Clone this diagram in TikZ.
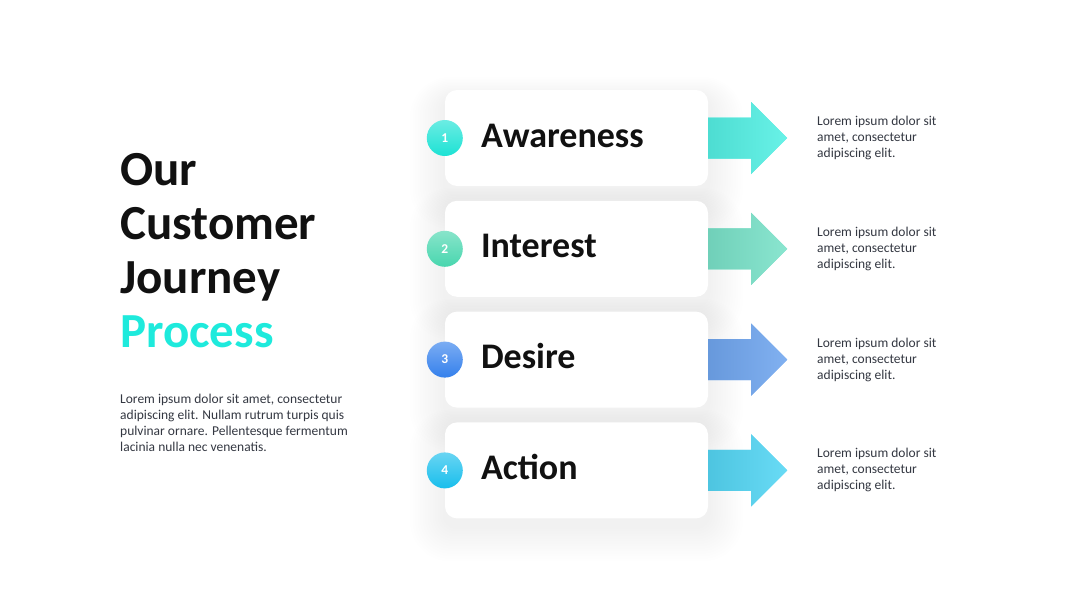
\documentclass[tikz,border=0pt]{standalone}
\usepackage{fontspec}
\setmainfont{Carlito}
\usetikzlibrary{positioning,calc}
\definecolor{inkDark}{RGB}{17,17,17}
\definecolor{bodyGrey}{RGB}{52,56,66}
\definecolor{procCyan}{RGB}{30,234,220}
\definecolor{arrA}{RGB}{84,240,228}
\definecolor{arrB}{RGB}{122,226,201}
\definecolor{arrC}{RGB}{112,166,239}
\definecolor{arrD}{RGB}{84,214,244}
\definecolor{bdgA}{RGB}{28,226,212}
\definecolor{bdgB}{RGB}{72,214,174}
\definecolor{bdgC}{RGB}{52,128,236}
\definecolor{bdgD}{RGB}{24,190,236}

\begin{document}
\begin{tikzpicture}[
  x=1pt,y=-1pt,
  card/.style={fill=white,rounded corners=12pt,minimum width=263pt,minimum height=96pt,
               inner sep=0pt},
  haze/.style={fill=black,opacity=0.0045},
  badge/.style={circle,minimum size=36pt,inner sep=0pt,text=white,
                font=\fontsize{13.5}{14}\selectfont\bfseries},
  steptitle/.style={inner sep=0pt,text=inkDark,font=\fontsize{36}{40}\selectfont\bfseries},
  headline/.style={inner sep=0pt,text=inkDark,font=\fontsize{49}{54}\selectfont\bfseries},
  desc/.style={inner sep=0pt,align=left,text=bodyGrey,font=\fontsize{13.5}{16}\selectfont}
]

% ---- page ----
\fill[white] (0,0) rectangle (1080,608);
\useasboundingbox (0,0) rectangle (1080,608);

% ---- title block (left) ----
\node[headline,anchor=base west] (hOur)  at (120,185) {Our};
\node[headline,anchor=base west] (hCust) at (120,239) {Customer};
\node[headline,anchor=base west] (hJour) at (120,293) {Journey};
\node[headline,anchor=base west,text=procCyan] (hProc) at (120,347) {Process};

\node[desc,anchor=west] (intro) at (120,423)
  {Lorem ipsum dolor sit amet, consectetur\\
   adipiscing elit. Nullam rutrum turpis quis\\
   pulvinar ornare. Pellentesque fermentum\\
   lacinia nulla nec venenatis.};

% ---- soft shadows under the cards ----
\foreach \i in {1,...,4}{
  \pgfmathsetmacro{\yC}{138+(\i-1)*110.8}
  \foreach \k in {1,...,14}{
    \fill[haze,rounded corners=12pt+\k*2pt]
      (445-\k*2.5,\yC-48+8-\k*1.5) rectangle (708+\k*2.5,\yC+48+8+\k*2.5);
  }
}

% ---- steps: card, badge, arrow, note ----
\foreach \i/\word/\arr/\bdg in {1/Awareness/arrA/bdgA,2/Interest/arrB/bdgB,
                                3/Desire/arrC/bdgC,4/Action/arrD/bdgD}{
  \pgfmathsetmacro{\yC}{138+(\i-1)*110.8}
  \node[card] (card\i) at (576.5,\yC) {};
  \node[steptitle,anchor=base west] (title\i) at ($(card\i.west)+(36,9)$) {\word};
  \node[badge,top color=\bdg!65!white,bottom color=\bdg] (num\i) at (card\i.west) {\i};
  \fill[\arr]
    ($(card\i.east)+(0,-20.5)$) -- ++(43,0) -- ++(0,-15.5) -- ++(36,36)
    -- ++(-36,36) -- ++(0,-15.5) -- ++(-43,0) -- cycle;
  \shade[left color=\arr!92!black,right color=\arr!88!white]
    ($(card\i.east)+(0,-20.5)$) -- ++(43,0) -- ++(0,-15.5) -- ++(36,36)
    -- ++(-36,36) -- ++(0,-15.5) -- ++(-43,0) -- cycle;
  \node[desc,anchor=west] (note\i) at (817,\yC)
    {Lorem ipsum dolor sit\\amet, consectetur\\adipiscing elit.};
}

\end{tikzpicture}
\end{document}
